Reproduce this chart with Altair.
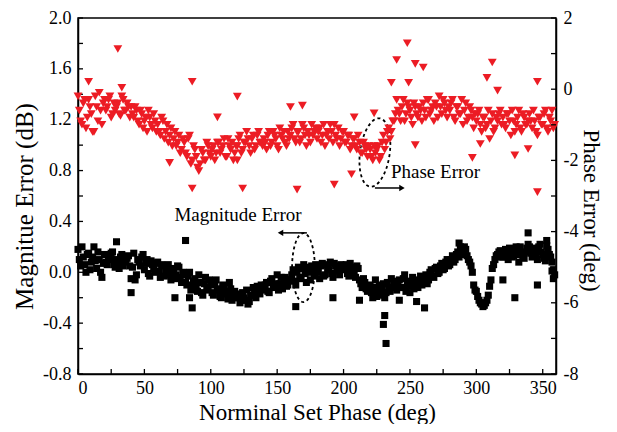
import altair as alt
import pandas as pd

# ---------------- data ----------------
# nominal set phase (deg): even and odd degree samples
even_x = list(range(0, 360, 2))
odd_x = list(range(1, 360, 2))

# phase error (deg) read from the red triangles
phase_even = [
    -0.2, -0.9, -0.4, -1.1, -0.3, -0.7, -1.2, -0.5, -0.1, -1.0,
    -0.3, -0.5, -0.2, -0.7, -0.6, -0.4, -0.75, -0.3, -0.6, -0.5,
    -0.5, -0.8, -0.6, -1.0, -0.7, -0.9, -1.2, -0.8, -1.1, -0.9,
    -1.0, -1.3, -0.9, -1.2, -1.5, -1.1, -1.4, -1.6, -1.3, -1.7,
    -1.5, -1.9, -1.3, -2.0, -1.7, -2.2, -2.1, -1.8, -2.0, -1.6,
    -1.9, -1.6, -1.8, -1.5, -1.7, -1.4, -1.9, -1.6, -1.5, -1.8,
    -1.6, -1.3, -1.7, -1.5, -1.4, -1.8, -1.3, -1.6, -1.2, -1.5,
    -1.4, -1.7, -1.2, -1.5, -1.3, -1.6, -1.1, -1.4, -1.5, -1.2,
    -1.3, -1.0, -1.5, -1.2, -1.4, -1.1, -1.6, -1.3, -1.0, -1.2,
    -1.4, -1.1, -1.3, -1.6, -1.2, -1.0, -1.5, -1.3, -1.1, -1.4,
    -1.2, -1.5, -1.3, -1.6, -1.4, -1.7, -1.5, -1.8, -1.6, -1.9,
    -1.7, -2.0, -1.8, -1.6, -1.9, -1.3, -1.5, -1.1, -1.2, -0.9,
    -0.3, -0.7, -0.5, -0.9, -0.4, -0.6, -1.0, -0.5, -0.8, -0.6,
    -0.4, -0.8, -0.3, -0.6, -0.9, -0.5, -0.2, -0.7, -0.4, -0.8,
    -0.6, -0.3, -0.9, -0.5, -0.7, -1.0, -0.4, -0.8, -0.6, -1.1,
    -0.9, -0.6, -1.2, -0.8, -1.0, -1.4, -0.7, -1.1, -0.9, -0.6,
    -0.8, -1.1, -0.7, -1.3, -0.9, -1.0, -0.6, -1.2, -0.8, -1.0,
    -0.7, -1.1, -0.9, -1.3, -0.8, -1.0, -0.6, -1.2, -0.9, -1.1,
]
phase_odd = [
    -0.6, -1.0, -0.3, -0.8, -0.5, -1.2, -0.2, -0.9, -0.6, -0.4,
    -0.6, -0.3, -0.8, -0.4, -0.5, -0.7, -0.2, -0.6, -0.4, -0.8,
    -0.7, -0.5, -0.9, -0.6, -1.1, -0.8, -0.6, -1.0, -0.7, -1.2,
    -1.2, -0.8, -1.4, -1.0, -1.3, -1.6, -1.2, -1.5, -1.8, -1.4,
    -1.8, -1.4, -2.1, -1.6, -1.9, -2.3, -1.7, -2.0, -1.5, -1.8,
    -1.7, -2.0, -1.5, -1.8, -1.6, -1.9, -1.4, -1.7, -2.0, -1.6,
    -1.4, -1.8, -1.5, -1.2, -1.6, -1.4, -1.7, -1.3, -1.5, -1.6,
    -1.5, -1.3, -1.6, -1.2, -1.4, -1.7, -1.3, -1.2, -1.6, -1.4,
    -1.1, -1.4, -1.2, -1.5, -1.0, -1.3, -1.2, -1.5, -1.3, -1.1,
    -1.2, -1.5, -1.0, -1.3, -1.4, -1.2, -1.0, -1.4, -1.6, -1.2,
    -1.5, -1.3, -1.7, -1.4, -1.6, -1.3, -1.8, -1.5, -1.7, -1.6,
    -1.9, -1.6, -1.7, -2.0, -1.5, -1.7, -1.2, -1.4, -0.9, -0.7,
    -0.6, -0.9, -0.3, -0.7, -0.5, -0.8, -0.4, -0.7, -0.5, -0.9,
    -0.6, -0.3, -0.7, -0.5, -0.4, -0.8, -0.5, -0.3, -0.6, -0.5,
    -0.4, -0.8, -0.5, -0.7, -0.3, -0.6, -0.9, -0.5, -0.8, -0.7,
    -0.7, -1.0, -0.8, -1.1, -0.6, -0.9, -1.2, -0.8, -0.7, -1.0,
    -1.0, -0.7, -0.9, -0.6, -1.2, -0.8, -1.1, -0.7, -1.0, -0.9,
    -0.9, -0.6, -1.2, -0.8, -1.0, -0.7, -1.1, -0.8, -0.6, -1.0,
]
# scattered phase-error points away from the band
phase_out_x = [30, 86, 86, 120, 124, 165, 69, 120, 105, 160, 169, 193, 206, 208,
               223, 248, 240, 254, 260, 254, 312, 308, 346, 346, 297, 329, 339,
               303, 316, 8, 33, 236, 249]
phase_out_y = [1.13, 0.21, -2.79, -0.21, -2.79, -2.82, -2.07, -2.0, -0.79, -0.5,
               -0.46, -2.68, -2.39, -0.79, -0.68, 1.29, 0.82, 0.71, 0.61, -1.57,
               0.75, 0.32, 0.21, -2.89, -1.93, -1.86, -1.68, -1.54, -0.04, 0.21,
               0.04, 0.18, 0.18]

# magnitude error (dB) read from the black squares
mag_even = [
    0.18, 0.05, 0.12, 0.0, 0.15, 0.08, 0.2, 0.03, 0.1, -0.04,
    0.14, 0.06, 0.1, 0.16, 0.04, 0.08, 0.12, 0.05, 0.09, 0.13,
    -0.05, 0.15, -0.02, 0.08, 0.12, 0.02, 0.1, -0.03, 0.06, 0.0,
    0.08, -0.04, 0.05, 0.0, 0.06, -0.06, 0.03, -0.02, 0.04, -0.08,
    -0.02, -0.1, 0.0, -0.12, -0.05, -0.15, -0.08, -0.18, -0.04, -0.12,
    -0.1, -0.18, -0.06, -0.14, -0.2, -0.12, -0.17, -0.08, -0.22, -0.15,
    -0.2, -0.24, -0.16, -0.22, -0.25, -0.18, -0.12, -0.2, -0.15, -0.1,
    -0.14, -0.08, -0.16, -0.05, -0.12, -0.02, -0.09, -0.13, -0.04, -0.1,
    -0.06, 0.02, -0.1, 0.04, -0.04, 0.06, -0.08, 0.0, 0.05, -0.03,
    0.04, -0.05, 0.07, -0.02, 0.03, 0.08, -0.04, 0.05, 0.01, 0.06,
    0.02, 0.06, -0.03, 0.04, 0.0, 0.05, -0.06, -0.12, -0.08, -0.15,
    -0.1, -0.2, -0.06, -0.14, -0.18, -0.09, -0.16, -0.12, -0.05, -0.1,
    -0.14, -0.06, -0.12, -0.02, -0.1, -0.16, -0.04, -0.08, -0.12, -0.03,
    -0.08, -0.02, -0.06, 0.02, -0.04, 0.04, 0.0, 0.07, 0.03, 0.1,
    0.06, 0.13, 0.1, 0.16, 0.2, 0.14, 0.18, 0.1, 0.05, -0.1,
    -0.15, -0.22, -0.25, -0.26, -0.22, -0.11, 0.03, 0.1, 0.14, 0.17,
    0.12, 0.18, 0.1, 0.16, 0.13, 0.2, 0.08, 0.15, 0.11, 0.19,
    0.2, 0.12, 0.17, 0.1, 0.22, 0.14, 0.09, 0.18, 0.12, 0.02,
]
mag_odd = [
    0.1, 0.2, 0.06, 0.14, 0.02, 0.12, 0.09, 0.16, 0.0, 0.07,
    0.08, 0.12, 0.15, 0.06, 0.1, 0.03, 0.14, 0.08, 0.11, 0.05,
    0.04, -0.06, 0.1, 0.05, 0.14, 0.07, -0.01, 0.09, 0.03, 0.07,
    0.01, 0.06, -0.03, 0.04, -0.02, 0.02, -0.05, 0.05, -0.04, 0.0,
    -0.08, -0.03, -0.14, -0.07, -0.1, -0.02, -0.16, -0.09, -0.14, -0.06,
    -0.16, -0.08, -0.13, -0.19, -0.1, -0.15, -0.21, -0.13, -0.18, -0.2,
    -0.17, -0.22, -0.2, -0.14, -0.23, -0.18, -0.15, -0.11, -0.17, -0.13,
    -0.1, -0.15, -0.07, -0.11, -0.09, -0.14, -0.04, -0.08, -0.11, -0.06,
    -0.02, -0.07, 0.0, -0.05, 0.03, -0.01, 0.04, -0.06, 0.02, 0.06,
    0.0, 0.05, -0.03, 0.06, 0.02, -0.01, 0.07, 0.03, -0.02, 0.04,
    0.04, -0.01, 0.07, 0.02, -0.04, 0.03, -0.09, -0.05, -0.13, -0.11,
    -0.16, -0.12, -0.19, -0.1, -0.13, -0.2, -0.08, -0.15, -0.12, -0.07,
    -0.09, -0.12, -0.05, -0.15, -0.07, -0.11, -0.13, -0.06, -0.09, -0.1,
    -0.05, -0.09, 0.0, -0.03, 0.03, -0.01, 0.05, 0.02, 0.08, 0.05,
    0.1, 0.08, 0.14, 0.12, 0.17, 0.2, 0.13, 0.08, 0.0, -0.14,
    -0.19, -0.24, -0.27, -0.24, -0.18, -0.06, 0.06, 0.13, 0.16, 0.12,
    0.16, 0.13, 0.19, 0.12, 0.17, 0.14, 0.2, 0.13, 0.16, 0.22,
    0.15, 0.19, 0.13, 0.2, 0.16, 0.11, 0.21, 0.14, 0.08, -0.02,
]
mag_out_x = [29, 81, 40, 73, 86, 84, 164, 192, 212, 231, 230, 232, 242, 255, 261,
             339, 353, 346, 357, 358, 320, 329, 287]
mag_out_y = [0.24, 0.25, -0.16, -0.2, -0.28, -0.2, -0.27, -0.2, -0.22, -0.34, -0.41,
             -0.56, -0.22, -0.23, -0.28, 0.31, 0.25, -0.1, 0.01, -0.05, -0.06, -0.2,
             0.23]

# axis ticks / labels
x_labels = [0, 50, 100, 150, 200, 250, 300, 350]
x_ticks = [0, 25, 50, 75, 100, 125, 150, 175, 200, 225, 250, 275, 300, 325, 350]
left_labels = [-0.8, -0.4, 0.0, 0.4, 0.8, 1.2, 1.6, 2.0]
left_ticks = [-0.8, -0.6, -0.4, -0.2, 0.0, 0.2, 0.4, 0.6, 0.8, 1.0, 1.2, 1.4, 1.6, 1.8, 2.0]
right_labels = [-8, -6, -4, -2, 0, 2]
right_ticks = [-8, -7, -6, -5, -4, -3, -2, -1, 0, 1, 2]

# annotations (in magnitude-axis coordinates)
ann_text = ["Magnitude Error", "Phase Error"]
ann_x = [120.5, 235.7]
ann_y = [0.45, 0.79]

# ---------------- chart ----------------
W, H = 478, 356
FONT = "Liberation Serif"
RED = "#ec1c24"

xs = alt.Scale(domain=[0, 360], nice=False, zero=False)
yl = alt.Scale(domain=[-0.8, 2.0], nice=False, zero=False)
yr = alt.Scale(domain=[-8, 2], nice=False, zero=False)

axX = alt.Axis(title="Norminal Set Phase (deg)", values=x_labels, ticks=False,
               labelPadding=5, titlePadding=4)
axL = alt.Axis(title="Magnitue Error (dB)", values=left_labels, ticks=False,
               labelPadding=7, titlePadding=5, titleFontSize=25, titleY=188,
               labelExpr="datum.value < 0 ? '-' + format(-datum.value, '.1f') : format(datum.value, '.1f')")
axR = alt.Axis(title="Phase Error (deg)", orient="right", values=right_labels, ticks=False,
               labelPadding=7, titlePadding=1, titleFontSize=23, titleY=192,
               labelExpr="datum.value < 0 ? '-' + format(-datum.value, 'd') : format(datum.value, 'd')")

def X(f="x"):
    return alt.X(f"{f}:Q", scale=xs, axis=axX)

def YL(f="y"):
    return alt.Y(f"{f}:Q", scale=yl, axis=axL)

def YR(f="y"):
    return alt.Y(f"{f}:Q", scale=yr, axis=axR)

mag_df = pd.DataFrame({"x": even_x + odd_x + mag_out_x, "y": mag_even + mag_odd + mag_out_y})
ph_df = pd.DataFrame({"x": even_x + odd_x + phase_out_x, "y": phase_even + phase_odd + phase_out_y})

black = alt.Chart(mag_df).mark_point(
    shape="square", filled=True, color="black", size=50, opacity=1
).encode(x=X(), y=YL())

tl = alt.Chart(pd.DataFrame({"y": left_ticks})).mark_rule(color="black", strokeWidth=1.3).encode(
    y=YL(), x=alt.value(0), x2=alt.value(5))
tb = alt.Chart(pd.DataFrame({"x": x_ticks})).mark_rule(color="black", strokeWidth=1.3).encode(
    x=X(), y=alt.value(H), y2=alt.value(H - 5))

ell_mag = alt.Chart(pd.DataFrame({"x": [169.8], "y": [0.037]})).mark_point(
    shape="M -0.33 0 A 0.33 1 0 1 0 0.33 0 A 0.33 1 0 1 0 -0.33 0 Z",
    size=4761, filled=False, stroke="black", strokeWidth=1.8, strokeDash=[3, 3], opacity=1
).encode(x=X(), y=YL())

ell_ph = alt.Chart(pd.DataFrame({"x": [223.6], "y": [0.942]})).mark_point(
    shape="M -0.43 0 A 0.43 1 0 1 0 0.43 0 A 0.43 1 0 1 0 -0.43 0 Z",
    size=4761, filled=False, stroke="black", strokeWidth=1.8, strokeDash=[3, 3],
    opacity=1, angle=8
).encode(x=X(), y=YL())

arrows = alt.Chart(pd.DataFrame({"x": [152.0, 223.6], "x2": [172.4, 244.5], "y": [0.31, 0.663]})).mark_rule(
    color="black", strokeWidth=1.5
).encode(x=X(), x2="x2:Q", y=YL())

head_l = alt.Chart(pd.DataFrame({"x": [152.5], "y": [0.31]})).mark_point(
    shape="triangle-left", filled=True, color="black", size=40, opacity=1
).encode(x=X(), y=YL())
head_r = alt.Chart(pd.DataFrame({"x": [244.0], "y": [0.663]})).mark_point(
    shape="triangle-right", filled=True, color="black", size=40, opacity=1
).encode(x=X(), y=YL())

ann_df = pd.DataFrame({"t": ann_text, "x": ann_x, "y": ann_y})
txt_c = alt.Chart(ann_df.iloc[[0]]).mark_text(
    font=FONT, fontSize=19, color="black", align="center", baseline="middle"
).encode(x=X(), y=YL(), text="t:N")
txt_l = alt.Chart(ann_df.iloc[[1]]).mark_text(
    font=FONT, fontSize=19, color="black", align="left", baseline="middle"
).encode(x=X(), y=YL(), text="t:N")

left = alt.layer(black, tl, tb, ell_mag, ell_ph, arrows, head_l, head_r, txt_c, txt_l)

red = alt.Chart(ph_df).mark_point(
    shape="triangle-down", filled=True, color=RED, size=78, opacity=1
).encode(x=X(), y=YR())
tr = alt.Chart(pd.DataFrame({"y": right_ticks})).mark_rule(color="black", strokeWidth=1.3).encode(
    y=YR(), x=alt.value(W), x2=alt.value(W - 5))

right = alt.layer(red, tr)

chart = alt.layer(left, right).resolve_scale(y="independent").properties(
    width=W, height=H,
    autosize=alt.AutoSizeParams(type="none"),
    padding={"left": 70, "top": 10, "right": 53, "bottom": 50},
).configure_view(
    stroke="black", strokeWidth=1.5
).configure_axis(
    grid=False, domainColor="black", domainWidth=1.5,
    labelFont=FONT, labelFontSize=18, labelColor="black",
    titleFont=FONT, titleFontSize=23, titleFontWeight="normal", titleColor="black",
)

chart.save("out.html", embed_options={"renderer": "svg", "actions": False})
